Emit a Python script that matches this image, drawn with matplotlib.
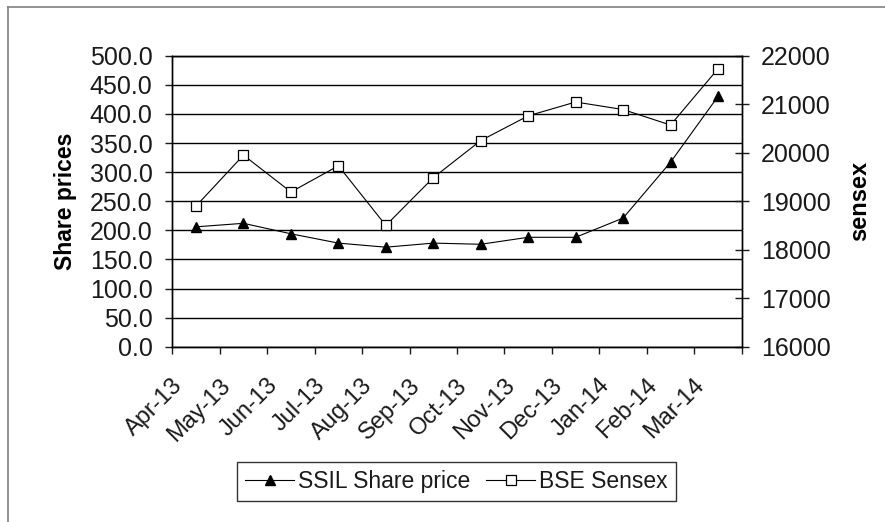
import matplotlib
matplotlib.use("Agg")
import matplotlib.pyplot as plt
import matplotlib.transforms as mtransforms
from matplotlib.lines import Line2D
from matplotlib.ticker import FormatStrFormatter, MultipleLocator

plt.rcParams['font.family'] = ['Liberation Sans', 'DejaVu Sans']
plt.rcParams['text.color'] = '#1a1a1a'
plt.rcParams['xtick.color'] = '#1a1a1a'
plt.rcParams['ytick.color'] = '#1a1a1a'

# data
months = ['Apr-13', 'May-13', 'Jun-13', 'Jul-13', 'Aug-13', 'Sep-13',
          'Oct-13', 'Nov-13', 'Dec-13', 'Jan-14', 'Feb-14', 'Mar-14']
ssil_price = [206, 212, 194, 178, 171, 178, 176, 188, 188, 221, 317, 430]
bse_sensex = [18900, 19950, 19190, 19730, 18500, 19485,
              20250, 20760, 21045, 20890, 20570, 21730]

fig = plt.figure(figsize=(8.85, 5.22), dpi=100)
ax = fig.add_axes([0.1947, 0.3358, 0.6434, 0.5575])
ax2 = ax.twinx()

x = list(range(len(months)))

# left axis: share price
l1, = ax.plot(x, ssil_price, color='black', lw=0.8, marker='^', ms=7,
              mfc='black', mec='black', label='SSIL Share price')
ax.set_ylim(0, 500)
ax.yaxis.set_major_locator(MultipleLocator(50))
ax.yaxis.set_major_formatter(FormatStrFormatter('%.1f'))
ax.grid(axis='y', color='black', lw=1)
ax.set_axisbelow(True)
ax.tick_params(axis='y', direction='out', length=4.8, width=1, pad=9.5, labelsize=18)
ax.set_ylabel('Share prices', fontsize=16.5, fontweight='bold', labelpad=9)

# x axis: ticks between months, labels on months
ax.set_xlim(-0.5, len(months) - 0.5)
ax.set_xticks([i - 0.5 for i in range(len(months) + 1)])
ax.set_xticklabels([])
ax.set_xticks(x, minor=True)
ax.set_xticklabels(months, minor=True, rotation=45, ha='right', va='top', fontsize=17)
ax.tick_params(axis='x', which='major', direction='out', length=4.8, width=1)
ax.tick_params(axis='x', which='minor', length=0, pad=20)
shift = mtransforms.ScaledTranslation(-0.09, 0, fig.dpi_scale_trans)
for lab in ax.get_xticklabels(minor=True):
    lab.set_transform(lab.get_transform() + shift)

# right axis: sensex
l2, = ax2.plot(x, bse_sensex, color='black', lw=0.8, marker='s', ms=6.5,
               mfc='white', mec='black', mew=0.9, label='BSE Sensex')
ax2.set_ylim(16000, 22000)
ax2.yaxis.set_major_locator(MultipleLocator(1000))
ax2.tick_params(axis='y', direction='inout', length=10, width=1, pad=9, labelsize=18)
ax2.set_ylabel('sensex', fontsize=17, fontweight='bold', labelpad=12)

for a in (ax, ax2):
    for s in a.spines.values():
        s.set_linewidth(1)
        s.set_color('black')

leg = fig.legend([l1, l2], ['SSIL Share price', 'BSE Sensex'], loc='center',
                 bbox_to_anchor=(0.516, 0.0785), ncol=2, fontsize=16.5,
                 frameon=True, fancybox=False, edgecolor='black',
                 handlelength=2.1, handletextpad=0.2, columnspacing=0.7,
                 borderpad=0.35, borderaxespad=0)
leg.get_frame().set_linewidth(1)

# outer chart frame (only left and top visible in the picture)
fig.add_artist(Line2D([8 / 885, 8 / 885], [0, 1 - 7 / 522], color='#808080', lw=1.2))
fig.add_artist(Line2D([8 / 885, 1], [1 - 7 / 522, 1 - 7 / 522], color='#808080', lw=1.2))

fig.savefig('out.png', dpi=100)
